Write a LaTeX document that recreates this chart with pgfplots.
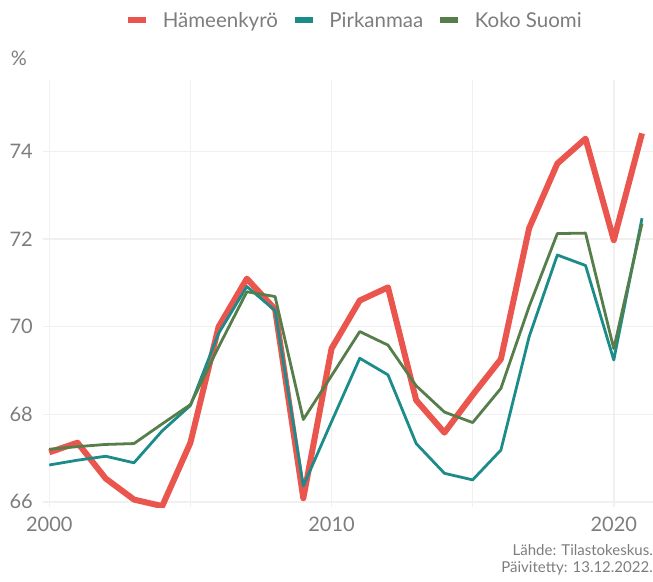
\documentclass[border=0pt]{standalone}
\usepackage{fontspec}
\setmainfont{Lato}
\usepackage{pgfplots}
\pgfplotsset{compat=1.18}
\usepackage{pgfplotstable}

\definecolor{hkred}{RGB}{234,86,78}
\definecolor{pirteal}{RGB}{28,140,138}
\definecolor{suomigreen}{RGB}{86,126,74}
\definecolor{txtgray}{RGB}{125,125,125}
\definecolor{gridgray}{RGB}{240,240,240}

% vuosi, Hameenkyro, Pirkanmaa, Koko Suomi
\pgfplotstableread{
year  hk     pir    fin
2000  67.13  66.84  67.20
2001  67.35  66.95  67.26
2002  66.53  67.04  67.31
2003  66.05  66.89  67.33
2004  65.90  67.62  67.78
2005  67.35  68.20  68.22
2006  70.00  69.85  69.54
2007  71.10  70.92  70.80
2008  70.40  70.37  70.69
2009  66.08  66.36  67.88
2010  69.50  67.83  68.88
2011  70.60  69.28  69.89
2012  70.90  68.90  69.58
2013  68.32  67.33  68.65
2014  67.58  66.65  68.05
2015  68.44  66.50  67.81
2016  69.26  67.18  68.59
2017  72.25  69.77  70.46
2018  73.73  71.64  72.13
2019  74.30  71.40  72.14
2020  71.98  69.24  69.50
2021  74.42  72.48  72.36
}\data

\begin{document}
\begin{tikzpicture}
\begin{axis}[
    width=610pt, height=427pt, scale only axis,
    xmin=1999.777, xmax=2021.39,
    ymin=65.88, ymax=75.64,
    axis line style={draw=none},
    tick style={draw=none},
    xtick={2000,2010,2020},
    minor xtick={2005,2015},
    ytick={66,68,...,74},
    xticklabel={\pgfmathprintnumber[1000 sep={}]{\tick}},
    xmajorgrids, xminorgrids, ymajorgrids,
    major grid style={gridgray, line width=1.5pt},
    minor grid style={gridgray, line width=1.5pt},
    /pgf/number format/assume math mode=true,
    ticklabel style={font=\fontsize{20}{24}\selectfont, text=txtgray},
    xticklabel style={anchor=north, inner sep=0pt, yshift=-10pt},
    yticklabel style={anchor=east, inner sep=0pt, xshift=-10pt},
    legend columns=3,
    legend style={at={(0.509,1.14)}, anchor=center, draw=none, fill=none,
        inner sep=0pt, column sep=14pt,
        font=\fontsize{20.5}{24}\selectfont,
        nodes={inner sep=0pt, text=txtgray, text height=14.6pt, text depth=0pt}},
    legend image code/.code={\draw[#1, line width=5.5pt, line cap=butt] (0pt,0pt) -- (18pt,0pt);},
    line join=round,
]
\addplot[hkred, line width=6pt] table[x=year, y=hk] {\data};
\addlegendentry{Hämeenkyrö}
\addplot[pirteal, line width=2.8pt] table[x=year, y=pir] {\data};
\addlegendentry{Pirkanmaa}
\addplot[suomigreen, line width=2.8pt] table[x=year, y=fin] {\data};
\addlegendentry{Koko Suomi}
\end{axis}
\node[text=txtgray, font=\fontsize{20}{24}\selectfont] at ([shift={(-24pt,22pt)}]current axis.north west) {\%};
\node[anchor=north east, align=right, inner sep=0pt, text=txtgray,
      font=\fontsize{15}{17}\selectfont]
    at ([shift={(0pt,-37pt)}]current axis.south east)
    {Lähde: Tilastokeskus.\\Päivitetty: 13.12.2022.};
\pgfresetboundingbox
\path ([shift={(-43pt,-74pt)}]current axis.south west) rectangle ([shift={(0pt,80pt)}]current axis.north east);
\end{tikzpicture}
\end{document}
